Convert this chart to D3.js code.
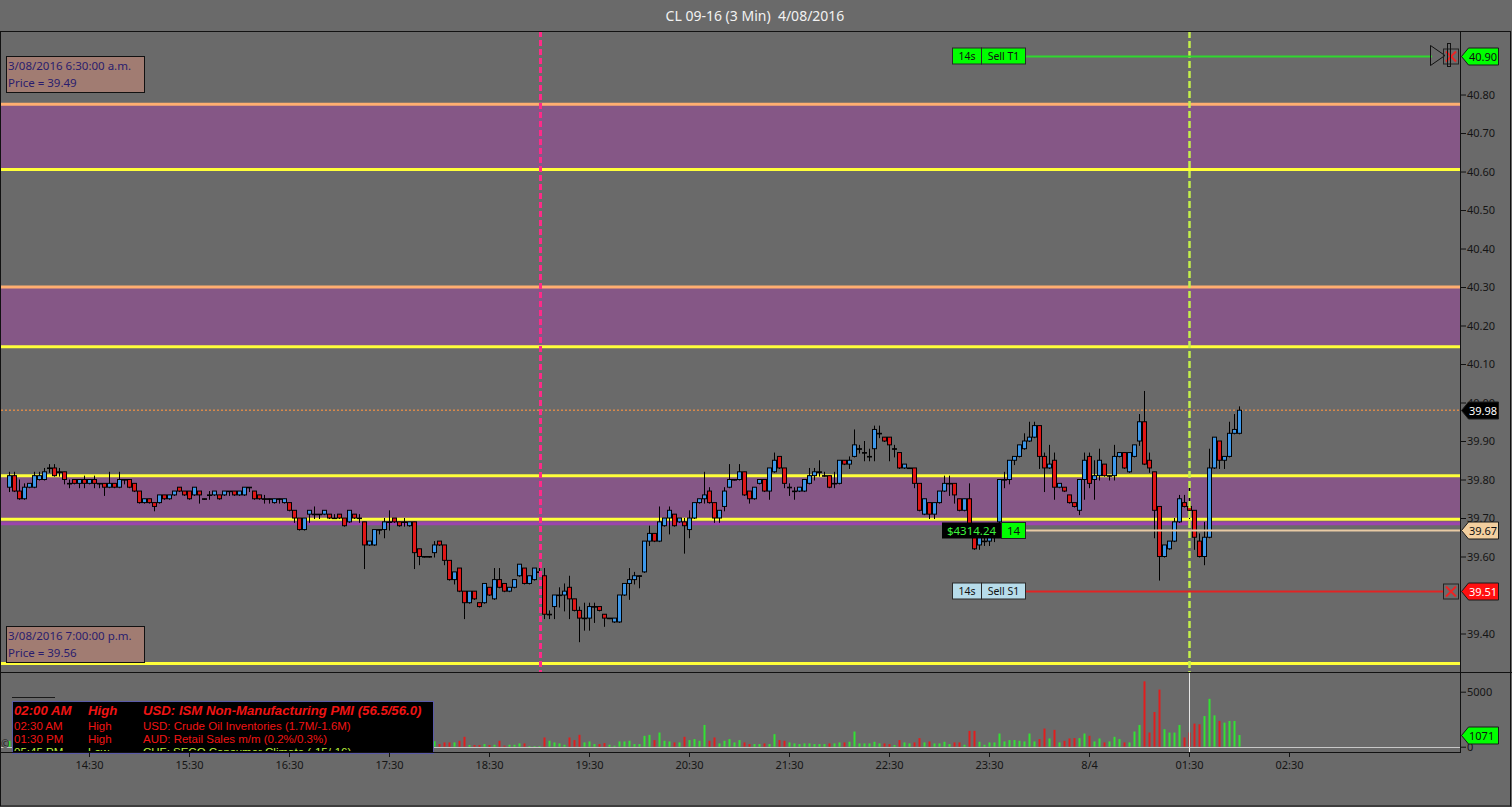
<!DOCTYPE html>
<html>
<head>
<meta charset="utf-8">
<script src="https://cdn.jsdelivr.net/npm/d3@7"></script>
<style>
  body { margin: 0; background: #6a6a6a; overflow: hidden; }
  svg { display: block; font-family: "Noto Sans", "Open Sans", sans-serif; }
</style>
</head>
<body>
<div id="okvir"></div>
<script>
// cijene po svijeci (3 min), od 13:42 nadalje
const otvori = [
  39.78,39.81,39.77,39.75,39.78,39.78,39.80,39.80,39.83,39.83, 39.82,39.82,39.79,39.80,39.79,39.80,39.79,39.80,39.79,39.79,
  39.78,39.79,39.78,39.80,39.80,39.79,39.77,39.74,39.75,39.74, 39.74,39.76,39.75,39.76,39.78,39.77,39.77,39.76,39.77,39.75,
  39.76,39.76,39.76,39.76,39.77,39.77,39.76,39.76,39.78,39.77, 39.76,39.75,39.75,39.74,39.75,39.74,39.74,39.72,39.70,39.67,
  39.71,39.71,39.71,39.71,39.71,39.70,39.71,39.70,39.69,39.71, 39.70,39.69,39.63,39.63,39.67,39.67,39.69,39.70,39.69,39.69,
  39.68,39.69,39.62,39.60,39.60,39.61,39.64,39.63,39.59,39.54, 39.57,39.51,39.48,39.51,39.48,39.48,39.52,39.49,39.54,39.53,
  39.51,39.52,39.55,39.57,39.53,39.54,39.56,39.55,39.45,39.47, 39.50,39.50,39.52,39.49,39.46,39.44,39.44,39.47,39.47,39.45,
  39.44,39.43,39.43,39.50,39.53,39.54,39.55,39.56,39.64,39.66, 39.64,39.68,39.70,39.71,39.69,39.69,39.67,39.70,39.74,39.75,
  39.77,39.74,39.70,39.73,39.78,39.80,39.80,39.82,39.77,39.75, 39.79,39.80,39.77,39.82,39.86,39.83,39.78,39.77,39.77,39.77,
  39.79,39.81,39.82,39.81,39.81,39.79,39.79,39.85,39.84,39.86, 39.88,39.87,39.86,39.88,39.92,39.91,39.91,39.88,39.87,39.83,
  39.83,39.83,39.79,39.71,39.74,39.71,39.74,39.77,39.79,39.79, 39.75,39.72,39.75,39.66,39.63,39.64,39.64,39.65,39.69,39.80,
  39.80,39.85,39.86,39.88,39.90,39.91,39.94,39.86,39.83,39.85, 39.78,39.78,39.76,39.74,39.72,39.80,39.86,39.80,39.81,39.84,
  39.81,39.81,39.86,39.87,39.82,39.86,39.90,39.95,39.85,39.82, 39.73,39.60,39.62,39.64,39.69,39.74,39.73,39.72,39.64,39.60,
  39.65,39.83,39.90,39.85,39.86,39.92,39.92
]
const maks = [
  39.82,39.82,39.80,39.79,39.79,39.82,39.82,39.83,39.84,39.84, 39.83,39.82,39.80,39.80,39.80,39.81,39.80,39.81,39.79,39.79,
  39.82,39.79,39.82,39.80,39.80,39.79,39.77,39.75,39.75,39.74, 39.76,39.76,39.76,39.77,39.78,39.77,39.77,39.78,39.77,39.75,
  39.77,39.77,39.76,39.77,39.77,39.77,39.77,39.78,39.78,39.77, 39.76,39.76,39.75,39.75,39.75,39.75,39.74,39.72,39.70,39.70,
  39.72,39.73,39.71,39.72,39.71,39.71,39.71,39.70,39.72,39.71, 39.71,39.69,39.64,39.67,39.67,39.70,39.72,39.70,39.69,39.70,
  39.69,39.69,39.62,39.60,39.60,39.64,39.64,39.63,39.59,39.56, 39.57,39.51,39.51,39.51,39.48,39.53,39.52,39.57,39.57,39.53,
  39.52,39.54,39.58,39.57,39.55,39.57,39.57,39.57,39.46,39.50, 39.52,39.53,39.55,39.49,39.47,39.48,39.48,39.48,39.47,39.45,
  39.44,39.44,39.50,39.53,39.57,39.56,39.55,39.64,39.68,39.66, 39.73,39.70,39.73,39.71,39.70,39.70,39.72,39.74,39.75,39.82,
  39.78,39.74,39.72,39.78,39.84,39.80,39.84,39.82,39.77,39.78, 39.80,39.80,39.83,39.87,39.86,39.83,39.79,39.78,39.78,39.80,
  39.83,39.83,39.85,39.82,39.81,39.82,39.85,39.85,39.86,39.93, 39.89,39.90,39.88,39.94,39.94,39.91,39.91,39.89,39.87,39.84,
  39.83,39.83,39.79,39.75,39.74,39.74,39.77,39.81,39.81,39.79, 39.75,39.75,39.79,39.66,39.65,39.66,39.66,39.68,39.80,39.82,
  39.85,39.86,39.89,39.92,39.95,39.95,39.94,39.87,39.89,39.87, 39.79,39.78,39.76,39.74,39.80,39.87,39.87,39.85,39.88,39.84,
  39.81,39.89,39.87,39.87,39.87,39.89,39.97,40.03,39.87,39.82, 39.73,39.63,39.64,39.70,39.76,39.76,39.78,39.72,39.66,39.69,
  39.88,39.91,39.90,39.86,39.95,39.97,39.99
]
const min = [
  39.77,39.77,39.75,39.75,39.78,39.78,39.80,39.80,39.82,39.81, 39.81,39.79,39.78,39.79,39.78,39.78,39.79,39.78,39.78,39.76,
  39.78,39.78,39.78,39.79,39.78,39.77,39.74,39.74,39.74,39.72, 39.74,39.75,39.75,39.76,39.77,39.76,39.75,39.76,39.74,39.75,
  39.75,39.76,39.75,39.76,39.76,39.76,39.76,39.76,39.77,39.75, 39.75,39.74,39.74,39.74,39.74,39.74,39.72,39.69,39.67,39.67,
  39.69,39.70,39.70,39.71,39.70,39.70,39.70,39.68,39.69,39.70, 39.69,39.57,39.63,39.63,39.66,39.65,39.67,39.69,39.68,39.68,
  39.68,39.57,39.58,39.60,39.60,39.60,39.63,39.58,39.54,39.53, 39.51,39.44,39.48,39.49,39.47,39.48,39.50,39.49,39.52,39.51,
  39.51,39.52,39.55,39.53,39.53,39.54,39.55,39.44,39.44,39.44, 39.47,39.46,39.44,39.46,39.38,39.41,39.41,39.43,39.46,39.42,
  39.44,39.43,39.43,39.50,39.49,39.53,39.52,39.56,39.63,39.64, 39.64,39.68,39.66,39.68,39.69,39.61,39.65,39.70,39.74,39.74,
  39.74,39.69,39.69,39.72,39.78,39.80,39.80,39.76,39.74,39.75, 39.79,39.77,39.75,39.82,39.83,39.78,39.76,39.75,39.77,39.77,
  39.79,39.80,39.81,39.81,39.78,39.78,39.79,39.84,39.83,39.86, 39.87,39.85,39.85,39.85,39.91,39.90,39.85,39.86,39.83,39.83,
  39.83,39.78,39.72,39.71,39.70,39.70,39.74,39.77,39.76,39.74, 39.72,39.72,39.66,39.62,39.62,39.63,39.63,39.64,39.68,39.78,
  39.79,39.84,39.86,39.88,39.90,39.91,39.83,39.77,39.83,39.75, 39.78,39.77,39.74,39.73,39.71,39.75,39.78,39.75,39.80,39.81,
  39.80,39.80,39.86,39.83,39.82,39.86,39.89,39.84,39.82,39.65, 39.54,39.60,39.62,39.64,39.69,39.73,39.70,39.62,39.60,39.58,
  39.65,39.83,39.83,39.83,39.86,39.92,39.92
]
const zatvori = [
  39.81,39.77,39.75,39.78,39.79,39.81,39.81,39.82,39.83,39.81, 39.82,39.80,39.79,39.79,39.80,39.79,39.80,39.79,39.79,39.78,
  39.79,39.78,39.80,39.80,39.78,39.77,39.74,39.75,39.74,39.73, 39.76,39.75,39.76,39.77,39.77,39.76,39.75,39.78,39.76,39.75,
  39.76,39.77,39.75,39.77,39.77,39.76,39.77,39.78,39.78,39.75, 39.75,39.75,39.75,39.75,39.75,39.75,39.72,39.70,39.67,39.70,
  39.72,39.71,39.71,39.72,39.70,39.70,39.70,39.68,39.72,39.70, 39.70,39.63,39.64,39.67,39.67,39.69,39.69,39.69,39.68,39.69,
  39.69,39.61,39.60,39.60,39.60,39.63,39.63,39.59,39.54,39.56, 39.51,39.48,39.51,39.49,39.47,39.53,39.50,39.54,39.52,39.51,
  39.52,39.54,39.58,39.53,39.55,39.57,39.56,39.45,39.45,39.50, 39.50,39.51,39.49,39.46,39.44,39.44,39.47,39.47,39.46,39.44,
  39.44,39.44,39.50,39.53,39.54,39.55,39.55,39.64,39.66,39.64, 39.69,39.70,39.72,39.68,39.70,39.68,39.70,39.74,39.75,39.76,
  39.74,39.70,39.72,39.77,39.80,39.80,39.82,39.76,39.75,39.78, 39.80,39.77,39.83,39.85,39.83,39.79,39.78,39.77,39.78,39.80,
  39.81,39.82,39.82,39.81,39.78,39.79,39.85,39.84,39.85,39.89, 39.88,39.87,39.86,39.93,39.92,39.90,39.89,39.88,39.83,39.84,
  39.83,39.79,39.72,39.75,39.71,39.74,39.77,39.79,39.79,39.76, 39.72,39.75,39.66,39.62,39.65,39.64,39.65,39.67,39.80,39.80,
  39.85,39.86,39.89,39.90,39.91,39.94,39.86,39.83,39.84,39.78, 39.79,39.77,39.74,39.73,39.80,39.85,39.79,39.81,39.85,39.81,
  39.81,39.86,39.87,39.83,39.87,39.89,39.95,39.84,39.83,39.72, 39.60,39.63,39.64,39.69,39.75,39.73,39.72,39.65,39.60,39.65,
  39.83,39.91,39.85,39.86,39.92,39.93,39.98
]
const volumen = [
  520,610,380,450,300,700,410,330,560,290, 350,480,260,310,240,280,330,250,200,360,
  420,230,510,190,300,340,650,280,310,400, 450,260,300,220,250,270,390,330,410,180,
  210,290,240,260,170,230,250,310,190,350, 270,200,180,240,210,260,520,480,610,390,
  300,250,200,240,270,220,230,420,450,260, 210,980,450,520,260,470,380,300,260,240,
  310,890,560,320,280,500,
  240,390,390,390,540,900,150,150,150,240, 150,180,540,100,180,180,300,300,60,60,
  60,840,540,390,300,180,840,600,1080,390, 480,240,240,330,180,90,480,480,540,240,
  240,990,1080,600,1290,540,480,390,390,900, 600,690,540,1980,540,840,300,540,690,390,
  600,390,240,240,240,300,240,1140,600,540, 390,300,240,300,300,240,240,240,300,300,
  390,390,450,1380,300,300,300,450,300,300, 240,150,600,390,300,390,780,390,480,300,
  300,450,240,390,390,180,1440,1440,450,180, 390,390,1200,480,600,600,540,480,1200,480,
  690,1650,750,1530,390,540,750,780,780,1200, 990,480,750,390,480,900,690,390,390,1380,
  1980,5940,1290,3150,5190,1590,1290,1290,1980,840, 1290,2100,2040,2790,4350,2850,2340,2190,2340,2340,
  1071
]

// os vremena: indeks svijece i oznaka
const satBarovi = [16, 36, 56, 76, 96, 116, 136, 156, 176, 196, 216, 236, 256]
const satOznake = ["14:30", "15:30", "16:30", "17:30", "18:30", "19:30", "20:30", "21:30", "22:30", "23:30", "8/4", "01:30", "02:30"]
const cijenaTicks = [39.4, 39.6, 39.7, 39.8, 39.9, 40.0, 40.1, 40.2, 40.3, 40.4, 40.5, 40.6, 40.7, 40.8]
const volTicks = [0, 5000]

// zone (gornja i donja granica), linije
const zonaVrh = [40.775, 40.30, 39.81]
const zonaDno = [40.605, 40.145, 39.682]
const narancasteLinije = [40.775, 40.30]
const zuteLinije = [40.605, 40.145, 39.81, 39.697, 39.322]
const ljubicasteLinije = [39.685]
const zadnjaCijena = 39.98
const vertikale = [106.2, 236]

// nalozi
const nalogT1 = 40.90
const nalogS1 = 39.51
const ulaz = 39.67
const dobit = "$4314.24"
const kolicina = "14"
const zadnjiVolumen = 1071

const vijesti = [
  ["02:00 AM", "High", "USD: ISM Non-Manufacturing PMI (56.5/56.0)"],
  ["02:30 AM", "High", "USD: Crude Oil Inventories (1.7M/-1.6M)"],
  ["01:30 PM", "High", "AUD: Retail Sales m/m (0.2%/0.3%)"],
  ["05:45 PM", "Low", "CHF: SECO Consumer Climate (-15/-16)"],
]
const infoGore = ["3/08/2016 6:30:00 a.m.", "Price = 39.49"]
const infoDolje = ["3/08/2016 7:00:00 p.m.", "Price = 39.56"]

function crtajGraf() {

  // 1. Podaci
  const svijece = otvori.map((o, i) => ({ i, o, h: maks[i], l: min[i], c: zatvori[i], v: volumen[i] }))

  // 2. Dimenzije
  const dim = { sirina: 1512, visina: 807, lijevo: 1, desno: 1460, vrh: 31, cijenaDno: 672, volDno: 752, dno: 806 }

  const svg = d3.select("#okvir").append("svg")
    .attr("width", dim.sirina)
    .attr("height", dim.visina)

  svg.append("rect").attr("width", dim.sirina).attr("height", dim.visina).attr("fill", "#6a6a6a")

  const defs = svg.append("defs")
  defs.append("clipPath").attr("id", "clipCijena").append("rect")
    .attr("x", dim.lijevo).attr("y", dim.vrh).attr("width", dim.desno - dim.lijevo).attr("height", dim.cijenaDno - dim.vrh)
  defs.append("clipPath").attr("id", "clipVol").append("rect")
    .attr("x", dim.lijevo).attr("y", dim.cijenaDno).attr("width", dim.desno - dim.lijevo).attr("height", dim.volDno - dim.cijenaDno)
  defs.append("clipPath").attr("id", "clipVijesti").append("rect")
    .attr("x", 12).attr("y", 701).attr("width", 422).attr("height", 50)

  // 3. Skale
  const xSkala = d3.scaleLinear().domain([0, 246]).range([9, 1239])
  const ySkala = d3.scaleLinear().domain([39.30, 40.965]).range([dim.cijenaDno, dim.vrh])
  const vSkala = d3.scaleLinear().domain([-480, 6790]).range([dim.volDno, dim.cijenaDno])

  // 4. Naslov
  svg.append("text")
    .attr("x", 755).attr("y", 21)
    .attr("text-anchor", "middle")
    .attr("fill", "#f2f2f2")
    .style("font-size", "14px")
    .style("white-space", "pre")
    .text("CL 09-16 (3 Min)  4/08/2016")

  // 5. Zone i linije
  const cijena = svg.append("g").attr("clip-path", "url(#clipCijena)")

  cijena.selectAll(".zona").data(d3.range(zonaVrh.length)).join("rect")
    .attr("class", "zona")
    .attr("x", dim.lijevo).attr("width", dim.desno - dim.lijevo)
    .attr("y", i => ySkala(zonaVrh[i]))
    .attr("height", i => ySkala(zonaDno[i]) - ySkala(zonaVrh[i]))
    .attr("fill", "#855786")

  const vodoravna = (razine, boja, debljina, crtice) => cijena.append("g").selectAll("line").data(razine).join("line")
    .attr("x1", dim.lijevo).attr("x2", dim.desno)
    .attr("y1", d => ySkala(d)).attr("y2", d => ySkala(d))
    .attr("stroke", boja).attr("stroke-width", debljina)
    .attr("stroke-dasharray", crtice)

  vodoravna(ljubicasteLinije, "#9b45ad", 3, null)
  vodoravna(narancasteLinije, "#ffae70", 3, null)
  vodoravna(zuteLinije, "#ffff3a", 3, null)
  vodoravna([zadnjaCijena], "#d9894a", 1.5, "2,2")

  // 6. Svijece
  const sirinaTijela = 3
  cijena.append("g").selectAll("line").data(svijece).join("line")
    .attr("x1", d => xSkala(d.i) + 0.5).attr("x2", d => xSkala(d.i) + 0.5)
    .attr("y1", d => ySkala(d.h)).attr("y2", d => ySkala(d.l) + 1)
    .attr("stroke", "#000").attr("stroke-width", 1)

  cijena.append("g").selectAll("rect").data(svijece).join("rect")
    .attr("x", d => xSkala(d.i) + 0.5 - sirinaTijela / 2 - 0.5)
    .attr("width", sirinaTijela + 1)
    .attr("y", d => ySkala(Math.max(d.o, d.c)))
    .attr("height", d => Math.max(ySkala(Math.min(d.o, d.c)) - ySkala(Math.max(d.o, d.c)), 0.6))
    .attr("fill", d => d.c > d.o ? "#3d98ea" : d.c < d.o ? "#e01616" : "#000")
    .attr("stroke", "#000").attr("stroke-width", 1)

  // 7. Okomite linije
  cijena.append("line")
    .attr("x1", xSkala(vertikale[0]) + 0.5).attr("x2", xSkala(vertikale[0]) + 0.5)
    .attr("y1", dim.vrh).attr("y2", dim.cijenaDno)
    .attr("stroke", "#ff2a88").attr("stroke-width", 3).attr("stroke-dasharray", "6,3")
  cijena.append("line")
    .attr("x1", xSkala(vertikale[1]) + 0.5).attr("x2", xSkala(vertikale[1]) + 0.5)
    .attr("y1", dim.vrh).attr("y2", dim.cijenaDno)
    .attr("stroke", "#c4f04a").attr("stroke-width", 2.5).attr("stroke-dasharray", "7,3")

  // 8. Nalozi
  const nalozi = svg.append("g").style("font-size", "10.5px")
  const natpis = (x, y, w, tekst, pozadina, boja) => {
    nalozi.append("rect").attr("x", x + 0.5).attr("y", y - 8.5).attr("width", w).attr("height", 16)
      .attr("fill", pozadina).attr("stroke", "#2a2a2a")
    nalozi.append("text").attr("x", x + w / 2 + 0.5).attr("y", y + 3.5).attr("text-anchor", "middle")
      .attr("fill", boja).text(tekst)
  }
  const xKutija = (y) => {
    nalozi.append("rect").attr("x", 1443.5).attr("y", y - 7.5).attr("width", 15).attr("height", 15)
      .attr("fill", "none").attr("stroke", "#222")
    nalozi.append("path").attr("d", `M1446,${y - 5} L1456,${y + 5} M1456,${y - 5} L1446,${y + 5}`)
      .attr("stroke", "#ee2222").attr("stroke-width", 2)
  }

  const yT1 = Math.round(ySkala(nalogT1)) + 0.5
  nalozi.append("line").attr("x1", 1025).attr("x2", 1432).attr("y1", yT1).attr("y2", yT1)
    .attr("stroke", "#2fd82f").attr("stroke-width", 2)
  natpis(952, yT1, 29, "14s", "#00ff00", "#111")
  natpis(981, yT1, 44, "Sell T1", "#00ff00", "#111")
  nalozi.append("path").attr("d", `M1430.5,${yT1 - 11} L1445,${yT1 - 1} L1430.5,${yT1 + 9} Z`)
    .attr("fill", "none").attr("stroke", "#111")
  xKutija(yT1)
  nalozi.append("rect").attr("x", 1447.5).attr("y", yT1 - 13).attr("width", 3).attr("height", 23)
    .attr("fill", "none").attr("stroke", "#111")

  const yS1 = Math.round(ySkala(nalogS1)) + 0.5
  nalozi.append("line").attr("x1", 1025).attr("x2", 1443).attr("y1", yS1).attr("y2", yS1)
    .attr("stroke", "#e02424").attr("stroke-width", 2)
  natpis(952, yS1, 29, "14s", "#b7dcea", "#111")
  natpis(981, yS1, 44, "Sell S1", "#b7dcea", "#111")
  xKutija(yS1)

  const yUlaz = Math.round(ySkala(ulaz)) + 0.5
  nalozi.append("line").attr("x1", 1026).attr("x2", dim.desno).attr("y1", yUlaz).attr("y2", yUlaz)
    .attr("stroke", "#e8caa4").attr("stroke-width", 2)
  nalozi.append("rect").attr("x", 942).attr("y", yUlaz - 8).attr("width", 59).attr("height", 16).attr("fill", "#000")
  nalozi.append("text").attr("x", 971.5).attr("y", yUlaz + 4).attr("text-anchor", "middle")
    .attr("fill", "#3cf23c").style("font-size", "11.5px").text(dobit)
  nalozi.append("rect").attr("x", 1001.5).attr("y", yUlaz - 8).attr("width", 24).attr("height", 16)
    .attr("fill", "#00ff00").attr("stroke", "#222")
  nalozi.append("text").attr("x", 1013.5).attr("y", yUlaz + 4).attr("text-anchor", "middle")
    .attr("fill", "#111").style("font-size", "11.5px").text(kolicina)

  // 9. Info kucice
  const info = (y, redovi) => {
    const g = svg.append("g")
    g.append("rect").attr("x", 6.5).attr("y", y + 0.5).attr("width", 138).attr("height", 36)
      .attr("fill", "#a17c72").attr("stroke", "#111")
    g.selectAll("text").data(redovi).join("text")
      .attr("x", 8).attr("y", (d, i) => y + 14 + i * 17)
      .attr("fill", "#2a1c6e").style("font-size", "11.5px")
      .text(d => d)
  }
  info(56, infoGore)
  info(626, infoDolje)

  // 10. Volumen
  const vol = svg.append("g").attr("clip-path", "url(#clipVol)")
  vol.append("line").attr("x1", dim.lijevo).attr("x2", dim.desno)
    .attr("y1", Math.round(vSkala(0)) + 0.5).attr("y2", Math.round(vSkala(0)) + 0.5)
    .attr("stroke", "#c8c8c8")
  vol.append("g").selectAll("rect").data(svijece).join("rect")
    .attr("x", d => xSkala(d.i) - 0.5)
    .attr("width", 2)
    .attr("y", d => vSkala(d.v))
    .attr("height", d => vSkala(0) - vSkala(d.v))
    .attr("fill", d => d.c >= d.o ? "#33e233" : "#e21d1d")
  vol.append("line")
    .attr("x1", xSkala(vertikale[1]) + 0.5).attr("x2", xSkala(vertikale[1]) + 0.5)
    .attr("y1", dim.cijenaDno).attr("y2", dim.volDno)
    .attr("stroke", "#e6e6e6").attr("stroke-width", 1)

  // 11. Vijesti
  svg.append("line").attr("x1", 12).attr("x2", 55).attr("y1", 697.5).attr("y2", 697.5).attr("stroke", "#1a1a1a")
  svg.append("text").attr("x", 1).attr("y", 748).attr("fill", "#1a1a1a").style("font-size", "10px").text("©")
  const panel = svg.append("g").style("font-family", "'Liberation Sans', Arial, sans-serif")
  panel.append("rect").attr("x", 12.5).attr("y", 701.5).attr("width", 421).attr("height", 52)
    .attr("fill", "#000").attr("stroke", "#5a5aa8")
  const redovi = panel.append("g").attr("clip-path", "url(#clipVijesti)")
    .selectAll("g").data(vijesti).join("g")
    .attr("transform", (d, i) => `translate(0, ${i === 0 ? 715 : 717 + i * 13})`)
    .attr("fill", (d, i) => i === 3 ? "#b8f03c" : "#f01414")
    .style("font-size", (d, i) => i === 0 ? "13.2px" : "11.5px")
    .style("font-weight", (d, i) => i === 0 ? "bold" : "normal")
    .style("font-style", (d, i) => i === 0 ? "italic" : "normal")
  redovi.selectAll("text").data(d => d).join("text")
    .attr("x", (d, j) => [14, 88, 143][j])
    .text(d => d)

  // 12. Osi
  const yOs = svg.append("g")
    .attr("transform", `translate(${dim.desno}, 0)`)
    .call(d3.axisRight(ySkala).tickValues(cijenaTicks).tickSize(6).tickPadding(1).tickFormat(d3.format(".2f")))
  const vOs = svg.append("g")
    .attr("transform", `translate(${dim.desno}, 0)`)
    .call(d3.axisRight(vSkala).tickValues(volTicks).tickSize(6).tickPadding(1).tickFormat(d3.format("d")))
  const xOs = svg.append("g")
    .attr("transform", `translate(0, ${dim.volDno})`)
    .call(d3.axisBottom(xSkala).tickValues(satBarovi).tickSize(5).tickPadding(4).tickFormat((d, i) => satOznake[i]))

  for (const os of [yOs, vOs, xOs]) {
    os.select(".domain").remove()
    os.selectAll("line").attr("stroke", "#111")
    os.selectAll("text").attr("fill", "#151515").style("font-size", "11px").style("font-family", "'Noto Sans', sans-serif")
  }

  // 13. Okvir
  const okvir = svg.append("g").attr("stroke", "#111").attr("fill", "none")
  okvir.append("rect").attr("x", 0.5).attr("y", dim.vrh + 0.5).attr("width", 1510).attr("height", dim.dno - dim.vrh - 0.5)
  okvir.append("line").attr("x1", dim.desno + 0.5).attr("x2", dim.desno + 0.5).attr("y1", dim.vrh).attr("y2", dim.volDno)
  okvir.append("line").attr("x1", 0).attr("x2", 1512).attr("y1", dim.cijenaDno + 0.5).attr("y2", dim.cijenaDno + 0.5)
  okvir.append("line").attr("x1", 0).attr("x2", dim.desno + 1).attr("y1", dim.volDno + 0.5).attr("y2", dim.volDno + 0.5)

  // 14. Oznake na desnoj osi
  const oznaka = (y, tekst, pozadina, boja) => {
    const g = svg.append("g")
    g.append("path")
      .attr("d", `M1461.5,${y} L1468.5,${y - 8.5} L1498.5,${y - 8.5} L1498.5,${y + 8.5} L1468.5,${y + 8.5} Z`)
      .attr("fill", pozadina).attr("stroke", "#1a1a1a")
    g.append("text").attr("x", 1469).attr("y", y + 4)
      .attr("fill", boja).style("font-size", "11px").text(tekst)
  }
  oznaka(yT1, d3.format(".2f")(nalogT1), "#00ff00", "#111")
  oznaka(Math.round(ySkala(zadnjaCijena)) + 0.5, d3.format(".2f")(zadnjaCijena), "#000", "#fff")
  oznaka(yUlaz, d3.format(".2f")(ulaz), "#f3cf9f", "#111")
  oznaka(yS1, d3.format(".2f")(nalogS1), "#ff1010", "#fff")
  oznaka(Math.round(vSkala(zadnjiVolumen)) + 0.5, String(zadnjiVolumen), "#00ff00", "#111")
}
crtajGraf()
</script>
</body>
</html>
